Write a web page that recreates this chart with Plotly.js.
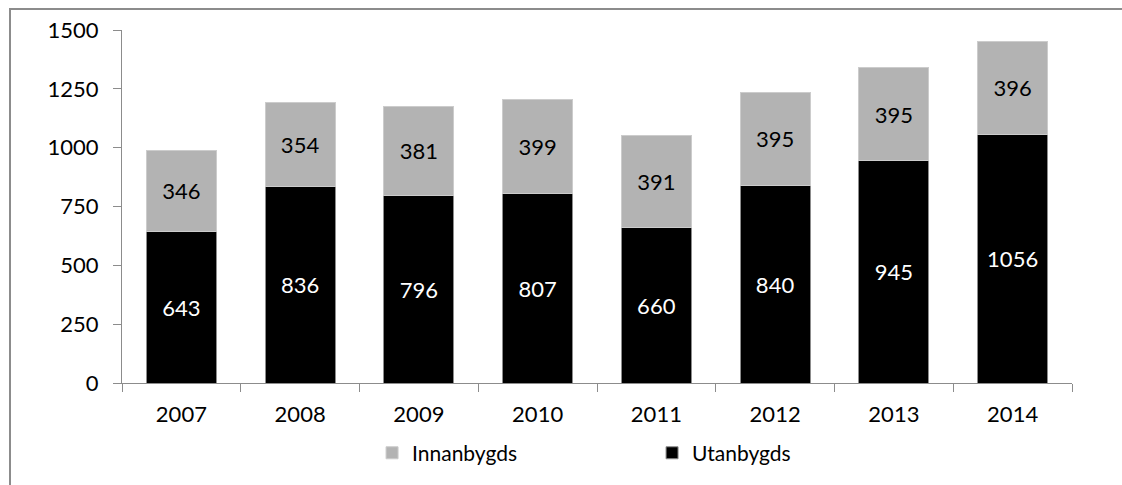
<!DOCTYPE html>
<html>
<head>
<meta charset="utf-8">
<script src="https://cdn.plot.ly/plotly-3.0.1.min.js"></script>
<style>
  html, body { margin: 0; background: #fff; overflow: hidden; }
  #wrap { position: relative; width: 1122px; height: 485px; }
  #chart { width: 1122px; height: 485px; }
  /* outer frame of the original sheet: only its left and top edges show */
  #frame {
    position: absolute; left: 9px; top: 8px; width: 1200px; height: 600px;
    border-left: 2px solid #8c8c8c; border-top: 2px solid #8c8c8c;
    pointer-events: none;
  }
</style>
</head>
<body>
<div id="wrap">
  <div id="chart"></div>
  <div id="frame"></div>
</div>
<script>
// Years and passenger counts
const years = ['2007', '2008', '2009', '2010', '2011', '2012', '2013', '2014'];
const utanbygds = [643, 836, 796, 807, 660, 840, 945, 1056];
const innanbygds = [346, 354, 381, 399, 391, 395, 395, 396];
const yTicks = [0, 250, 500, 750, 1000, 1250, 1500];

const font = 'Lato, "Open Sans", sans-serif';

const data = [
    {
        x: years,
        y: utanbygds,
        type: 'bar',
        name: 'Utanbygds',
        marker: { color: '#000000', line: { color: '#8c8c8c', width: 1 } },
        text: utanbygds.map(String),
        textposition: 'inside',
        insidetextanchor: 'middle',
        textfont: { color: '#ffffff', size: 22, family: font },
        hoverinfo: 'none'
    },
    {
        x: years,
        y: innanbygds,
        type: 'bar',
        name: 'Innanbygds',
        marker: { color: '#b3b3b3', line: { color: '#cccccc', width: 1 } },
        text: innanbygds.map(String),
        textposition: 'inside',
        insidetextanchor: 'middle',
        textfont: { color: '#000000', size: 22, family: font },
        hoverinfo: 'none'
    }
];

const layout = {
    width: 1122,
    height: 485,
    barmode: 'stack',
    bargap: 0.41,
    margin: { l: 122, r: 50, t: 30, b: 102, autoexpand: false },
    paper_bgcolor: '#ffffff',
    plot_bgcolor: '#ffffff',
    font: { family: font, size: 22, color: '#000000' },
    showlegend: true,
    legend: {
        orientation: 'h',
        xref: 'container', yref: 'container',
        x: 0.3316, xanchor: 'left',
        y: 0.108, yanchor: 'top',
        traceorder: 'reversed',
        font: { size: 21 },
        entrywidth: 235,
        itemwidth: 30
    },
    xaxis: {
        type: 'category',
        showline: true,
        linecolor: '#8c8c8c',
        linewidth: 1,
        ticks: 'outside',
        tickson: 'boundaries',
        ticklen: 8,
        tickcolor: '#8c8c8c',
        ticklabelstandoff: 12,
        showgrid: false,
        zeroline: false
    },
    yaxis: {
        range: [0, 1500],
        tickvals: yTicks,
        showline: true,
        linecolor: '#8c8c8c',
        linewidth: 1,
        ticks: 'outside',
        ticklen: 8,
        tickcolor: '#8c8c8c',
        ticklabelstandoff: 10,
        showgrid: false,
        zeroline: false
    }
};

Plotly.newPlot('chart', data, layout, { displayModeBar: false, staticPlot: true });
</script>
</body>
</html>
